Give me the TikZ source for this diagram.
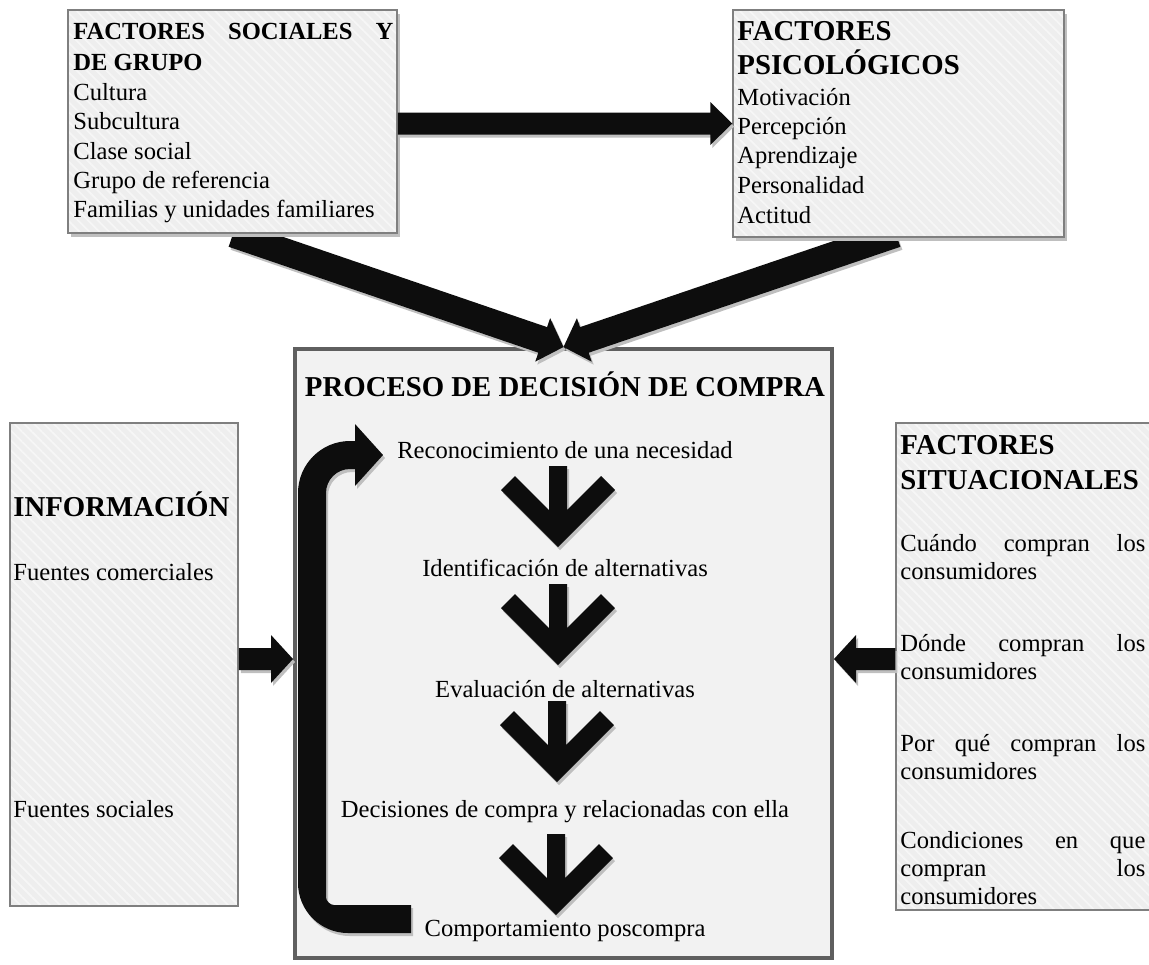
\documentclass[tikz,border=0pt]{standalone}
\usepackage{fontspec}
\setmainfont{Liberation Serif}
\usetikzlibrary{calc,patterns.meta}
\definecolor{boxfill}{HTML}{EEEEEE}
\definecolor{stripec}{HTML}{F6F6F6}
\definecolor{procfill}{HTML}{F2F2F2}
\definecolor{boxline}{HTML}{7F7F7F}
\definecolor{procline}{HTML}{5F5F5F}
\definecolor{shadowc}{HTML}{BFBFBF}
\definecolor{arrowc}{HTML}{0D0D0D}
% block arrow: #1 tail, #2 tip, #3 shaft half width, #4 head half width, #5 head length
\newcommand\blkarrow[5]{%
  \coordinate (bahd) at ($(#2)!#5!(#1)$);
  \fill[arrowfill] ($(#1)!#3!90:(#2)$) -- ($(bahd)!#3!90:(#2)$) -- ($(bahd)!#4!90:(#2)$)
    -- (#2) -- ($(bahd)!#4!-90:(#2)$) -- ($(bahd)!#3!-90:(#2)$) -- ($(#1)!#3!-90:(#2)$) -- cycle;
}
\newcommand\downchev[2]{%
  \begin{scope}[shift={(#1,#2)}]
    \fill[arrowfill] (0,0) -- (57,-57) -- (43,-71) -- (9,-37) -- (9,-81) -- (-9,-81)
      -- (-9,-37) -- (-43,-71) -- (-57,-57) -- cycle;
  \end{scope}}
\begin{document}
\begin{tikzpicture}[x=0.5pt,y=-0.5pt,
  box/.style={fill=boxfill, inner sep=0pt, outer sep=0.375pt,
    postaction={pattern={Lines[angle=-45,distance=3.5pt,line width=0.9pt]}, pattern color=stripec},
    postaction={draw=boxline, line width=0.75pt}},
  boxshadow/.style={preaction={fill=shadowc, transform canvas={shift={(1.5pt,-2pt)}}}},
  arrowfill/.style={fill=arrowc, preaction={fill=shadowc, transform canvas={shift={(1pt,-1.5pt)}}}},
  txt/.style={anchor=base west, inner sep=0pt, font=\fontsize{12.3}{14}\selectfont},
  ctxt/.style={anchor=base, inner sep=0pt, font=\fontsize{12.3}{14}\selectfont},
  hdsmall/.style={anchor=base west, inner sep=0pt, font=\fontsize{12.3}{14}\selectfont\bfseries},
  hdtxt/.style={anchor=base west, inner sep=0pt, font=\fontsize{14.4}{17}\selectfont\bfseries},
  ]
\useasboundingbox (0,0) rectangle (1149,964);
\clip (0,0) rectangle (1149,964);

% side boxes and process box
\node[box, minimum width=114pt, minimum height=241.5pt] (info) at (124,664.5) {};
\node[box, minimum width=139.5pt, minimum height=243.5pt] (sit) at (1035.5,666.5) {};
\node[draw=procline, line width=2pt, fill=procfill, inner sep=0pt,
      minimum width=268.5pt, minimum height=304.5pt] (proc) at (563.5,653.5) {};

% diagonal arrows (under the top boxes)
\coordinate (t1) at (233,234);
\coordinate (t2) at (896,234);
\blkarrow{t1}{proc.north}{6.75pt}{11.5pt}{11pt}
\blkarrow{t2}{proc.north}{6.75pt}{11.5pt}{11pt}

% top boxes
\node[box, boxshadow, minimum width=164.5pt, minimum height=111.5pt] (soc) at (232.5,121.5) {};
\node[box, boxshadow, minimum width=165.5pt, minimum height=113.5pt] (psi) at (898.5,123.5) {};

% horizontal arrow between top boxes
\coordinate (h1) at (soc.east |- psi.west);
\blkarrow{h1}{psi.west}{5.5pt}{10.75pt}{11pt}

% small side arrows
\coordinate (m1) at (0,659);
\coordinate (la) at (info.east |- m1);
\coordinate (lb) at (proc.west |- m1);
\coordinate (ra) at (sit.west |- m1);
\coordinate (rb) at (proc.east |- m1);
\blkarrow{la}{lb}{5.5pt}{12pt}{11pt}
\blkarrow{ra}{rb}{5.5pt}{12pt}{11pt}

% texts top-left
\node[hdsmall] (s1) at (73,39) {\makebox[160pt][s]{FACTORES SOCIALES Y}};
\node[hdsmall] (s2) at (73,70) {DE GRUPO};
\node[txt] (s3) at (73,100) {Cultura};
\node[txt] (s4) at (73,129.5) {Subcultura};
\node[txt] (s5) at (73,159) {Clase social};
\node[txt] (s6) at (73,188) {Grupo de referencia};
\node[txt] (s7) at (73,217) {Familias y unidades familiares};

% texts top-right
\node[hdtxt] (p1) at (737,40) {FACTORES};
\node[hdtxt] (p2) at (737,74) {PSICOLÓGICOS};
\node[txt] (p3) at (737,105) {Motivación};
\node[txt] (p4) at (737,134) {Percepción};
\node[txt] (p5) at (737,163) {Aprendizaje};
\node[txt] (p6) at (737,193) {Personalidad};
\node[txt] (p7) at (737,223) {Actitud};

% process texts
\node[hdtxt, anchor=base] (c0) at (565,396) {PROCESO DE DECISIÓN DE COMPRA};
\node[ctxt] (c1) at (565,458) {Reconocimiento de una necesidad};
\node[ctxt] (c2) at (565,576) {Identificación de alternativas};
\node[ctxt] (c3) at (565,697) {Evaluación de alternativas};
\node[ctxt] (c4) at (565,817) {Decisiones de compra y relacionadas con ella};
\node[ctxt] (c5) at (565,936) {Comportamiento poscompra};

% down chevrons
\downchev{558}{547}
\downchev{558}{665}
\downchev{557}{782}
\downchev{556}{915}

% curved return arrow
\fill[arrowfill] (411,933) -- (348,933) .. controls (320.4,933) and (298,910.6) .. (298,883)
  -- (298,493) .. controls (298,464.3) and (321.3,441) .. (350,441)
  -- (355,441) -- (355,424) -- (383,455) -- (355,486) -- (355,469) -- (350,469)
  .. controls (336.7,469) and (326,479.7) .. (326,493)
  -- (326,897) .. controls (326,901.4) and (330.4,905) .. (334,905)
  -- (411,905) -- cycle;

% left box texts
\node[hdtxt] (i1) at (13,516) {INFORMACIÓN};
\node[txt] (i2) at (13,580) {Fuentes comerciales};
\node[txt] (i3) at (13,817) {Fuentes sociales};

% right box texts
\node[hdtxt] (f1) at (900,454) {FACTORES};
\node[hdtxt] (f2) at (900,489) {SITUACIONALES};
\node[txt] (f3) at (900,551) {\makebox[122.5pt][s]{Cuándo compran los}};
\node[txt] (f4) at (900,579) {consumidores};
\node[txt] (f5) at (900,651) {\makebox[122.5pt][s]{Dónde compran los}};
\node[txt] (f6) at (900,679) {consumidores};
\node[txt] (f7) at (900,751) {\makebox[122.5pt][s]{Por qué compran los}};
\node[txt] (f8) at (900,779) {consumidores};
\node[txt] (f9) at (900,848) {\makebox[122.5pt][s]{Condiciones en que}};
\node[txt] (f10) at (900,876) {\makebox[122.5pt][s]{compran los}};
\node[txt] (f11) at (900,904) {consumidores};
\end{tikzpicture}
\end{document}
